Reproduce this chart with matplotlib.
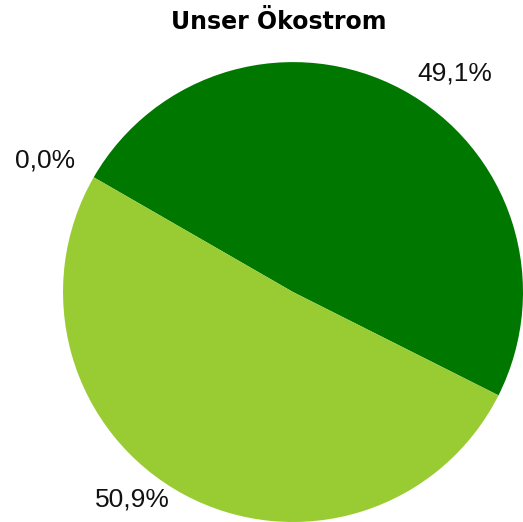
import matplotlib
matplotlib.use("Agg")
import matplotlib.pyplot as plt

# Data
labels = ["49,1%", "0,0%", "50,9%"]
values = [49.1, 0.0, 50.9]
colors = ["#007800", "#ff9900", "#99cc33"]
title = "Unser Ökostrom"

fig = plt.figure(figsize=(5.23, 5.22), dpi=100)
ax = fig.add_axes([0, 0, 1, 1])

wedges, texts = ax.pie(values, labels=labels, colors=colors, startangle=-26.7,
                       labeldistance=1.08, radius=1.0,
                       textprops=dict(fontsize=19, family="Liberation Sans", color="#111111"))
for w in wedges:
    w.set_clip_on(False)

# small nudges so labels sit like the original
nudges = [(0.03, 0.0), (-0.013, 0.035), (-0.025, 0.05)]
for t, (dx, dy) in zip(texts, nudges):
    x, y = t.get_position()
    t.set_position((x + dx, y + dy))

ax.set_xlim(-1.274, 1.0)
ax.set_ylim(-1.0, 1.270)
ax.set_aspect("auto")
ax.axis("off")

fig.text(278.5 / 523, 1 - 22 / 522, title, ha="center", va="center",
         fontsize=17, fontweight="bold", family="DejaVu Sans")

fig.savefig("out.png", dpi=100)
